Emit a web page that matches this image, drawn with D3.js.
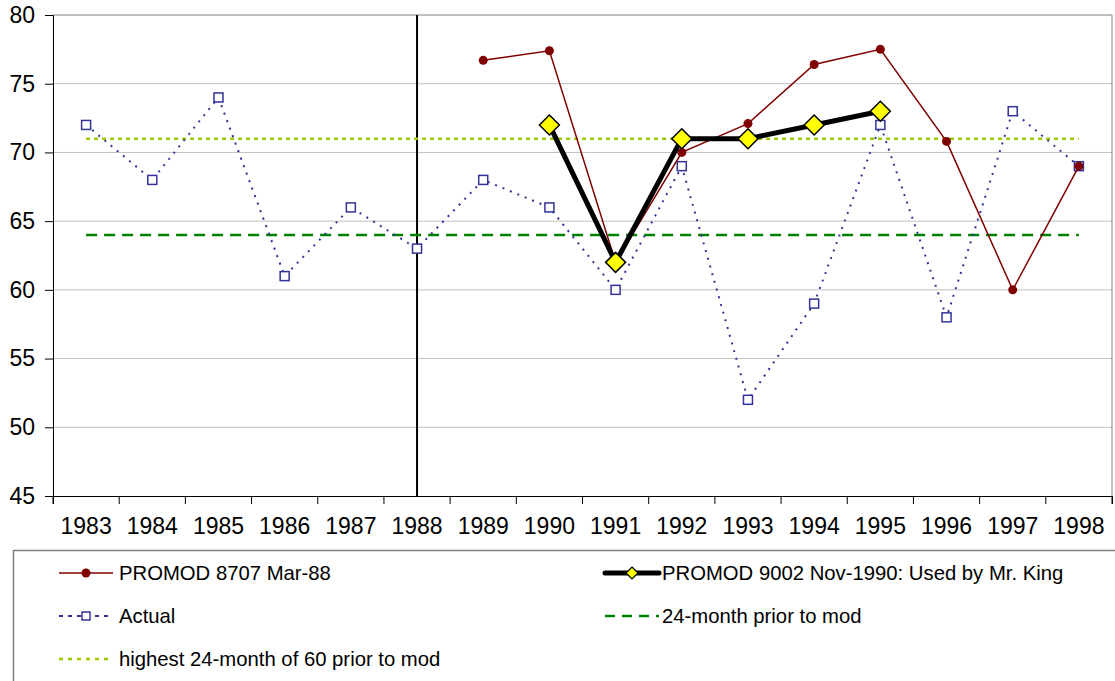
<!doctype html>
<html lang="en">
<head>
<meta charset="utf-8">
<script src="https://cdn.jsdelivr.net/npm/d3@7/dist/d3.min.js"></script>
<style>
  body { margin: 0; background: #fff; }
  svg { font-family: Arial, "Liberation Sans", sans-serif; }
</style>
</head>
<body>
<div id="chart"></div>
<script>
    // chart data
    var years = ["1983","1984","1985","1986","1987","1988","1989","1990","1991","1992","1993","1994","1995","1996","1997","1998"];
    var yTicks = [45, 50, 55, 60, 65, 70, 75, 80];
    var actual = [72, 68, 74, 61, 66, 63, 68, 66, 60, 69, 52, 59, 72, 58, 73, 69];
    var promod8707 = [null, null, null, null, null, null, 76.7, 77.4, 62, 70, 72.1, 76.4, 77.5, 70.8, 60, 69];
    var promod9002 = [null, null, null, null, null, null, null, 72, 62, 71, 71, 72, 73, null, null, null];
    var prior24 = 64;      // 24-month prior to mod
    var highest24 = 71;    // highest 24-month of 60 prior to mod
    var modYear = "1988";

    var W = 1115, H = 681;
    var margin = {left: 53, top: 15, right: 3, bottom: 185};
    var width = 1112 - margin.left, height = 496 - margin.top;

    var svg = d3.select("#chart").append("svg")
        .attr("width", W).attr("height", H);

    var g = svg.append("g")
        .attr("transform", "translate(" + margin.left + "," + margin.top + ")");

    var x = d3.scaleBand().domain(years).range([0, width]);
    var y = d3.scaleLinear().domain([45, 80]).range([height, 0]);
    var cx = function(i) { return x(years[i]) + x.bandwidth() / 2; };

    // gridlines
    g.selectAll(".grid").data(yTicks.filter(function(d) { return d > 45; }))
        .enter().append("line")
        .attr("x1", 0).attr("x2", width)
        .attr("y1", function(d) { return y(d); })
        .attr("y2", function(d) { return y(d); })
        .attr("stroke", function(d) { return d == 80 ? "#808080" : "#c0c0c0"; })
        .attr("stroke-width", 1);

    // right border
    g.append("line").attr("x1", width).attr("x2", width).attr("y1", 0).attr("y2", height)
        .attr("stroke", "#808080");

    // axes
    var yAxis = d3.axisLeft(y).tickValues(yTicks).tickSize(8).tickPadding(10);
    var yG = g.append("g").call(yAxis);
    yG.select(".domain").attr("stroke", "#000");
    yG.selectAll("text").style("font-size", "23px").attr("fill", "#000");

    var xAxis = d3.axisBottom(x).tickSize(8).tickPadding(14).tickFormat(function(d) { return d; });
    var xG = g.append("g").attr("transform", "translate(0," + height + ")").call(xAxis);
    xG.selectAll(".tick line").attr("transform", "translate(" + (-x.bandwidth() / 2) + ",0)");
    xG.append("line").attr("x1", width).attr("x2", width).attr("y1", 0).attr("y2", 8).attr("stroke", "#000");
    xG.select(".domain").attr("stroke", "#000");
    xG.selectAll("text").style("font-size", "23px").attr("fill", "#000");

    // vertical line at mod year
    g.append("line")
        .attr("x1", x(modYear) + x.bandwidth() / 2).attr("x2", x(modYear) + x.bandwidth() / 2)
        .attr("y1", 0).attr("y2", height)
        .attr("stroke", "#000").attr("stroke-width", 2);

    // reference lines
    g.append("line")
        .attr("x1", cx(0)).attr("x2", cx(years.length - 1))
        .attr("y1", y(prior24)).attr("y2", y(prior24))
        .attr("stroke", "#008000").attr("stroke-width", 2.5).attr("stroke-dasharray", "11,7");
    g.append("line")
        .attr("x1", cx(0)).attr("x2", cx(years.length - 1))
        .attr("y1", y(highest24)).attr("y2", y(highest24))
        .attr("stroke", "#99cc00").attr("stroke-width", 2.5).attr("stroke-dasharray", "4,4");

    var line = d3.line()
        .defined(function(d) { return d != null; })
        .x(function(d, i) { return cx(i); })
        .y(function(d) { return y(d); });

    // Actual
    g.append("path").attr("d", line(actual))
        .attr("fill", "none").attr("stroke", "#333399").attr("stroke-width", 2)
        .attr("stroke-dasharray", "2,6");
    g.selectAll(".act").data(actual).enter().append("rect")
        .attr("x", function(d, i) { return cx(i) - 4.5; })
        .attr("y", function(d) { return y(d) - 4.5; })
        .attr("width", 9).attr("height", 9)
        .attr("fill", "#fff").attr("stroke", "#333399").attr("stroke-width", 1.5);

    // PROMOD 8707
    g.append("path").attr("d", line(promod8707))
        .attr("fill", "none").attr("stroke", "#800000").attr("stroke-width", 1.5);
    g.selectAll(".p87").data(promod8707.map(function(d, i) { return {v: d, i: i}; })
            .filter(function(d) { return d.v != null; }))
        .enter().append("circle")
        .attr("cx", function(d) { return cx(d.i); })
        .attr("cy", function(d) { return y(d.v); })
        .attr("r", 4.5).attr("fill", "#800000");

    // PROMOD 9002
    g.append("path").attr("d", line(promod9002))
        .attr("fill", "none").attr("stroke", "#000").attr("stroke-width", 5)
        .attr("stroke-linejoin", "round");
    var diamond = function(px, py, s) {
        return "M" + px + "," + (py - s) + "L" + (px + s) + "," + py + "L" + px + "," + (py + s) + "L" + (px - s) + "," + py + "Z";
    };
    g.selectAll(".p90").data(promod9002.map(function(d, i) { return {v: d, i: i}; })
            .filter(function(d) { return d.v != null; }))
        .enter().append("path")
        .attr("d", function(d) { return diamond(cx(d.i), y(d.v), 10); })
        .attr("fill", "#ffff00").attr("stroke", "#000").attr("stroke-width", 1.5);

    // legend
    var leg = svg.append("g");
    leg.append("rect").attr("x", 13.5).attr("y", 550.5).attr("width", 1110).attr("height", 140)
        .attr("fill", "#fff").attr("stroke", "#808080").attr("stroke-width", 1.5);

    var items = [
        {name: "PROMOD 8707 Mar-88", col: 0, row: 0, type: "p87"},
        {name: "PROMOD 9002 Nov-1990: Used by Mr. King", col: 1, row: 0, type: "p90"},
        {name: "Actual", col: 0, row: 1, type: "act"},
        {name: "24-month prior to mod", col: 1, row: 1, type: "prior"},
        {name: "highest 24-month of 60 prior to mod", col: 0, row: 2, type: "high"}
    ];
    var colX = [59, 605], textX = [119, 662], rowY = [573, 616, 659];

    items.forEach(function(it) {
        var lx = colX[it.col], ly = rowY[it.row];
        var ln = leg.append("line").attr("x1", lx).attr("x2", lx + 54).attr("y1", ly).attr("y2", ly);
        if (it.type == "p87") {
            ln.attr("stroke", "#800000").attr("stroke-width", 1.5);
            leg.append("circle").attr("cx", lx + 27).attr("cy", ly).attr("r", 4.5).attr("fill", "#800000");
        } else if (it.type == "p90") {
            ln.attr("stroke", "#000").attr("stroke-width", 5).attr("stroke-linecap", "round");
            leg.append("path").attr("d", diamond(lx + 27, ly, 6))
                .attr("fill", "#ffff00").attr("stroke", "#000").attr("stroke-width", 1.2);
        } else if (it.type == "act") {
            ln.attr("stroke", "#333399").attr("stroke-width", 2).attr("stroke-dasharray", "4,5");
            leg.append("rect").attr("x", lx + 23).attr("y", ly - 4).attr("width", 8).attr("height", 8)
                .attr("fill", "#fff").attr("stroke", "#333399").attr("stroke-width", 1.5);
        } else if (it.type == "prior") {
            ln.attr("stroke", "#008000").attr("stroke-width", 2.5).attr("stroke-dasharray", "10,7");
        } else {
            ln.attr("stroke", "#99cc00").attr("stroke-width", 2.5).attr("stroke-dasharray", "4,5");
        }
        leg.append("text").attr("x", textX[it.col]).attr("y", ly).attr("dy", "0.35em")
            .style("font-size", "20.3px").attr("fill", "#000").text(it.name);
    });
</script>
</body>
</html>
